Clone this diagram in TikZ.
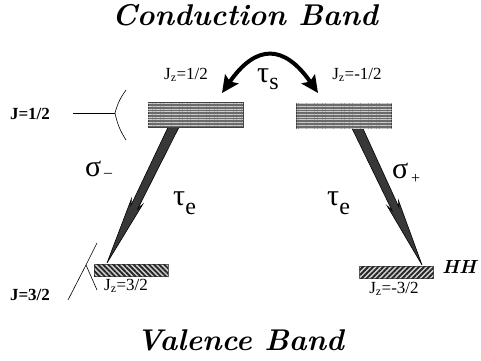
\documentclass[tikz,border=0pt]{standalone}
\usepackage{fontspec}
\usepackage{tikz}
\usetikzlibrary{arrows.meta,calc,patterns.meta}
\newfontfamily\timesfont{Liberation Serif}

% tapered transition arrow, #1 start, #2 tip
\newcommand{\taper}[2]{%
  \coordinate (hb) at ($(#1)!0.57!(#2)$);
  \coordinate (hj) at ($(#1)!0.61!(#2)$);
  \filldraw[taperarrow] ($(#1)!5pt!90:(#2)$) -- ($(hj)!3.8pt!90:(#2)$) -- ($(hb)!6.3pt!90:(#2)$) -- (#2)
    -- ($(hb)!6.3pt!-90:(#2)$) -- ($(hj)!3.8pt!-90:(#2)$) -- ($(#1)!5pt!-90:(#2)$) -- cycle;}

\begin{document}
\begin{tikzpicture}[x=1pt, y=-1pt, >={Stealth[length=17pt, width=16pt, inset=3pt]},
	title/.style={font=\fontsize{30}{33}\selectfont\bfseries\itshape},
	jz/.style={font=\timesfont\fontsize{17}{19}\selectfont},
	jlab/.style={font=\timesfont\fontsize{17}{19}\selectfont\bfseries},
	greek/.style={font=\timesfont\fontsize{30}{32}\selectfont, inner sep=0pt},
	cband/.style={draw=black!75, fill=black!58, minimum width=95pt, minimum height=25pt, inner sep=0pt,
		postaction={pattern={Lines[angle=0, distance=2.7pt, line width=0.5pt]}, pattern color=gray!40}},
	vband/.style={draw=black!60, fill=gray!35, minimum width=74pt, minimum height=12pt, inner sep=0pt},
	taperarrow/.style={fill=black!78, draw=black, line width=0.6pt}]
	\useasboundingbox (0,0) rectangle (481,360);
	\node[title] (cb) at (245,15) {Conduction Band};
	\node[title] (vb) at (240,340) {Valence Band};
	% transitions under the boxes
	\coordinate (aL) at (177,120); \coordinate (tL) at (107,263);
	\coordinate (aR) at (354,121); \coordinate (tR) at (422,265);
	\taper{aL}{tL}
	\taper{aR}{tR}
	% levels
	\node[cband] (cbL) at (195.5,114.5) {};
	\node[cband] (cbR) at (344,115.5) {};
	\node[vband, postaction={pattern={Lines[angle=-45, distance=3.6pt, line width=1.9pt]}, pattern color=black!85}] (vbL) at (131,270) {};
	\node[vband, postaction={pattern={Lines[angle=45, distance=3.6pt, line width=1.9pt]}, pattern color=black!85}] (vbR) at (396.5,272) {};
	\node[jz] (jzL) at (186,75) {J\textsubscript{z}=1/2};
	\node[jz] (jzR) at (357,75) {J\textsubscript{z}=-1/2};
	\node[jz] (jzvL) at (126,286) {J\textsubscript{z}=3/2};
	\node[jz] (jzvR) at (394,289) {J\textsubscript{z}=-3/2};
	\node[title, font=\fontsize{19}{21}\selectfont\bfseries\itshape, anchor=west, inner sep=0pt] (hh) at (442,267) {HH};
	% J brackets
	\node[jlab] (jh) at (30,114) {J=1/2};
	\node[jlab] (jt) at (30,295) {J=3/2};
	\coordinate (kh) at (115,113); \coordinate (kh1) at (126,90); \coordinate (kh2) at (126,140);
	\draw[line width=0.6pt] (73,113) -- (kh);
	\draw[line width=0.6pt] (kh1) to[bend right=10] (kh) to[bend right=10] (kh2);
	\coordinate (kt) at (86,265); \coordinate (kt1) at (97,243); \coordinate (kt2) at (97,290);
	\draw[line width=0.6pt] (68,300) -- (kt);
	\draw[line width=0.6pt] (kt1) -- (kt) -- (kt2);
	% spin flip
	\coordinate (sL) at (222,93); \coordinate (sR) at (318,93);
	\draw[<->, line width=4pt] (sL) .. controls (256,44) and (284,44) .. (sR);
	\node[greek, anchor=base west] (ts) at (257,82) {τ\raisebox{-7pt}{\fontsize{24}{24}\selectfont s}};
	\node[greek, anchor=base west] (teL) at (173,205) {τ\raisebox{-9pt}{\fontsize{24}{24}\selectfont e}};
	\node[greek, anchor=base west] (teR) at (327,205) {τ\raisebox{-9pt}{\fontsize{24}{24}\selectfont e}};
	\node[greek, anchor=base west] (sm) at (85,176) {σ\raisebox{-1pt}{\fontsize{16}{16}\selectfont\,–}};
	\node[greek, anchor=base west] (sp) at (392,178) {σ\raisebox{-5pt}{\fontsize{16}{16}\selectfont\,+}};
\end{tikzpicture}
\end{document}
